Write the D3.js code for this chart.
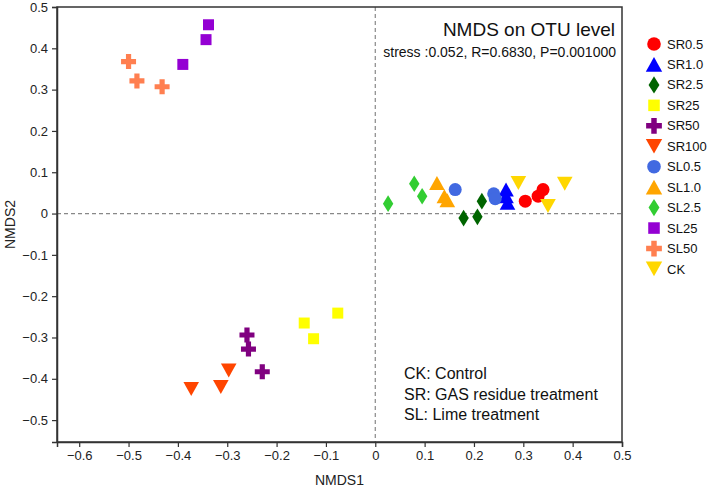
<!DOCTYPE html>
<html><head><meta charset="utf-8">
<script src="https://cdn.jsdelivr.net/npm/d3@7"></script>
<style>
body{margin:0;background:#fff;}
text{font-family:Arial,"Liberation Sans",sans-serif;}
</style></head>
<body><svg id="c" width="709" height="491"></svg>
<script>
const groups = ["SR0.5","SR1.0","SR2.5","SR25","SR50","SR100","SL0.5","SL1.0","SL2.5","SL25","SL50","CK"];
const colors = ["#FF0000","#0000FF","#006400","#FFFF00","#800080","#FF4500","#4169E1","#FFA500","#32CD32","#9400D3","#FF7F50","#FFD700"];
const shapes = ["circle","triUp","diamond","square","cross","triDown","circle","triUp","diamond","square","cross","triDown"];
const nmds1 = [
  [0.304, 0.330, 0.340],
  [0.265, 0.265, 0.268],
  [0.179, 0.207, 0.216],
  [-0.144, -0.125, -0.076],
  [-0.260, -0.257, -0.229],
  [-0.373, -0.313, -0.297],
  [0.162, 0.240, 0.243],
  [0.125, 0.140, 0.146],
  [0.026, 0.079, 0.095],
  [-0.390, -0.343, -0.338],
  [-0.500, -0.483, -0.432],
  [0.290, 0.350, 0.384]
];
const nmds2 = [
  [0.030, 0.042, 0.058],
  [0.058, 0.042, 0.026],
  [-0.011, -0.008, 0.030],
  [-0.265, -0.303, -0.241],
  [-0.294, -0.328, -0.383],
  [-0.425, -0.420, -0.380],
  [0.058, 0.048, 0.036],
  [0.074, 0.042, 0.032],
  [0.024, 0.072, 0.042],
  [0.361, 0.421, 0.457],
  [0.368, 0.321, 0.307],
  [0.074, 0.018, 0.072]
];
const xTicks = [-0.6,-0.5,-0.4,-0.3,-0.2,-0.1,0,0.1,0.2,0.3,0.4,0.5];
const yTicks = [-0.5,-0.4,-0.3,-0.2,-0.1,0,0.1,0.2,0.3,0.4,0.5];
const notes = ["CK: Control","SR: GAS residue treatment","SL: Lime treatment"];

const svg = d3.select("#c");
const L=57, R=622, T=7, B=442;
const x = d3.scaleLinear().domain([-0.645,0.5]).range([L,R]);
const y = d3.scaleLinear().domain([-0.553,0.5]).range([B,T]);

function shapePath(s, k){
  k = k||1;
  switch(s){
    case "circle": { const r=6.5*k; return `M${r},0A${r},${r} 0 1,1 ${-r},0A${r},${r} 0 1,1 ${r},0Z`; }
    case "triUp": { const w=7.8*k, h=7*k; return `M0,${-h}L${w},${h}L${-w},${h}Z`; }
    case "triDown": { const w=7.8*k, h=7*k; return `M0,${h}L${w},${-h}L${-w},${-h}Z`; }
    case "square": { const a=5.5*k; return `M${-a},${-a}H${a}V${a}H${-a}Z`; }
    case "diamond": { const w=5.2*k, h=8.3*k; return `M0,${-h}L${w},0L0,${h}L${-w},0Z`; }
    case "cross": { const a=7.5*k, t=2.6*k; return `M${-t},${-a}H${t}V${-t}H${a}V${t}H${t}V${a}H${-t}V${t}H${-a}V${-t}H${-t}Z`; }
  }
}

// dashed zero lines
svg.append("line").attr("x1",x(0)).attr("x2",x(0)).attr("y1",T).attr("y2",B)
  .attr("stroke","#888").attr("stroke-width",1.2).attr("stroke-dasharray","4,3");
svg.append("line").attr("x1",L).attr("x2",R).attr("y1",y(0)).attr("y2",y(0))
  .attr("stroke","#888").attr("stroke-width",1.2).attr("stroke-dasharray","4,3");

// frame
svg.append("rect").attr("x",L).attr("y",T).attr("width",R-L).attr("height",B-T)
  .attr("fill","none").attr("stroke","#333").attr("stroke-width",1.5);

const fmt = d => d===0 ? "0" : d3.format(".1f")(d);
const xAxis = svg.append("g").attr("transform",`translate(0,${B})`)
  .call(d3.axisBottom(x).tickValues(xTicks).tickFormat(fmt).tickSize(5).tickPadding(4));
const yAxis = svg.append("g").attr("transform",`translate(${L},0)`)
  .call(d3.axisLeft(y).tickValues(yTicks).tickFormat(fmt).tickSize(5).tickPadding(4));
[xAxis,yAxis].forEach(a=>{
  a.select(".domain").attr("stroke","#333").attr("stroke-width",1.5);
  a.selectAll(".tick line").attr("stroke","#333").attr("stroke-width",1.2);
  a.selectAll(".tick text").attr("font-size",13).attr("fill","#222")
    .style("font-family","Arial, 'Liberation Sans', sans-serif");
});

// points
groups.forEach((g,i)=>{
  nmds1[i].forEach((v,j)=>{
    svg.append("path").attr("d",shapePath(shapes[i]))
      .attr("transform",`translate(${x(v)},${y(nmds2[i][j])})`)
      .attr("fill",colors[i]);
  });
});

// axis titles
svg.append("text").attr("x",(L+R)/2).attr("y",485).attr("text-anchor","middle")
  .attr("font-size",14).attr("fill","#222").text("NMDS1");
svg.append("text").attr("transform",`translate(15,${(T+B)/2}) rotate(-90)`)
  .attr("text-anchor","middle").attr("font-size",14).attr("fill","#222").text("NMDS2");

// title and stats
svg.append("text").attr("x",615).attr("y",36).attr("text-anchor","end")
  .attr("font-size",19).attr("fill","#111").text("NMDS on OTU level");
svg.append("text").attr("x",616).attr("y",57).attr("text-anchor","end")
  .attr("font-size",14).attr("fill","#111").text("stress :0.052, R=0.6830, P=0.001000");

// notes
notes.forEach((t,i)=>{
  svg.append("text").attr("x",404).attr("y",379+i*20.5).attr("font-size",16)
    .attr("fill","#111").text(t);
});

// legend
groups.forEach((g,i)=>{
  const ly = 44 + i*20.45;
  svg.append("path").attr("d",shapePath(shapes[i],1.05))
    .attr("transform",`translate(654,${ly})`).attr("fill",colors[i]);
  svg.append("text").attr("x",667).attr("y",ly).attr("dy","0.35em")
    .attr("font-size",13).attr("fill","#111").text(g);
});
</script></body></html>
